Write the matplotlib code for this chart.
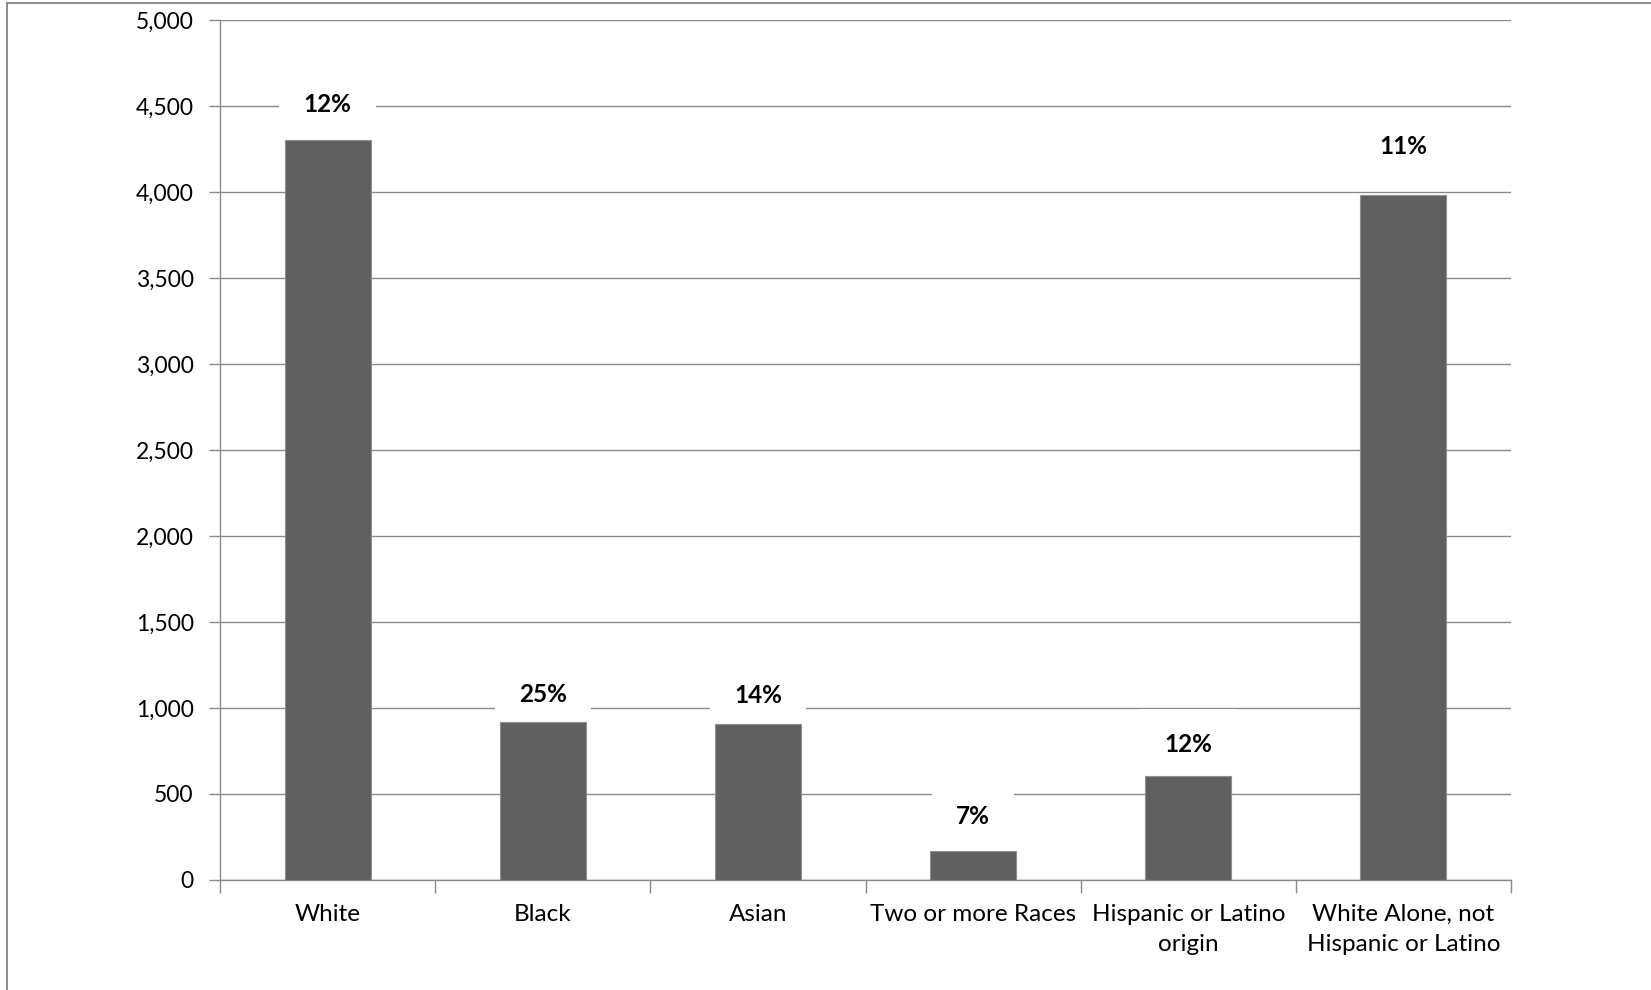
import matplotlib
matplotlib.use("Agg")
import matplotlib.pyplot as plt
from matplotlib.lines import Line2D
import numpy as np

categories = ["White", "Black", "Asian", "Two or more Races",
              "Hispanic or Latino\norigin", "White Alone, not\nHispanic or Latino"]
values = [4300, 920, 905, 170, 605, 3980]
pct_labels = ["12%", "25%", "14%", "7%", "12%", "11%"]
yticks = [0, 500, 1000, 1500, 2000, 2500, 3000, 3500, 4000, 4500, 5000]

# vertical distance (pixels) from each bar top to the centre of its label
label_lift = [36, 27, 29, 34, 31, 49]

plt.rcParams["font.family"] = ["Lato", "DejaVu Sans"]

GRID = "#8a8a8a"
BAR = "#606060"

fig = plt.figure(figsize=(16.51, 9.90), dpi=100)
ax = fig.add_axes([220 / 1651, 1 - 880 / 990, (1511 - 220) / 1651, (880 - 20) / 990])

x = np.arange(len(categories))
ax.bar(x, values, width=0.4, color=BAR, edgecolor="#8f8f8f", linewidth=0.8, zorder=3)

ax.set_xlim(-0.5, len(categories) - 0.5)
ax.set_ylim(0, 5000)
ax.set_yticks(yticks)
ax.set_yticklabels([f"{v:,}" for v in yticks])
ax.yaxis.grid(True, color=GRID, linewidth=1.0, zorder=0)
ax.set_axisbelow(True)

# category boundaries carry the tick marks, centres carry the names
ax.set_xticks(np.arange(-0.5, len(categories), 1.0))
ax.set_xticklabels([])
ax.set_xticks(x, minor=True)
ax.set_xticklabels(categories, minor=True, fontsize=17.5, linespacing=1.55)
ax.tick_params(axis="x", which="minor", length=0, pad=17)
ax.tick_params(axis="x", which="major", length=9, width=1.0, color=GRID, direction="out")
ax.tick_params(axis="y", length=8, width=1.0, color=GRID, labelsize=16.5, pad=11)

for side in ("top", "right"):
    ax.spines[side].set_visible(False)
for side in ("left", "bottom"):
    ax.spines[side].set_color(GRID)
    ax.spines[side].set_linewidth(1.0)

# value labels sit on white boxes that interrupt the gridlines but stay behind the bars
for xi, v, lab, lift in zip(x, values, pct_labels, label_lift):
    ax.annotate(lab, (xi, v), xytext=(0, lift), textcoords="offset pixels",
                ha="center", va="center", fontsize=17.5, fontweight="bold",
                color="black", zorder=2,
                bbox=dict(boxstyle="square,pad=1.0", facecolor="white",
                          edgecolor="none"))

# chart-area frame along the top and left edges
fig.add_artist(Line2D([7 / 1651, 7 / 1651], [0, 1 - 2.5 / 990],
                      transform=fig.transFigure, color=GRID, linewidth=1.4))
fig.add_artist(Line2D([7 / 1651, 1], [1 - 2.5 / 990, 1 - 2.5 / 990],
                      transform=fig.transFigure, color=GRID, linewidth=1.4))

fig.savefig("out.png", dpi=100, facecolor="white")
